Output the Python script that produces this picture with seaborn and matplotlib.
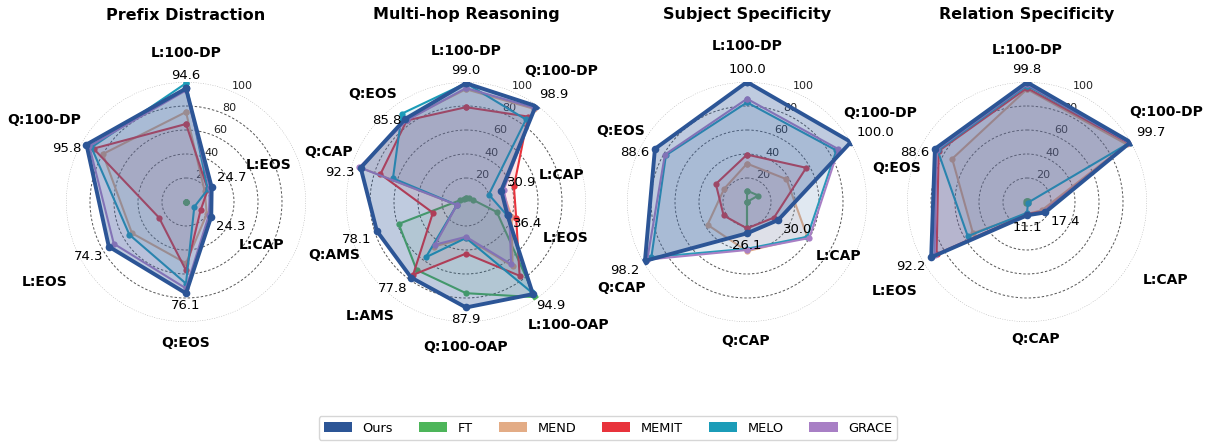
import numpy as np
import pandas as pd
import matplotlib
matplotlib.use("Agg")
import matplotlib.pyplot as plt
import seaborn as sns
from matplotlib.patches import Patch

sns.set_theme(style="white")
plt.rcParams["font.family"] = ["DejaVu Sans"]
plt.rcParams["text.color"] = "black"

# ---------------- data ----------------
methods = ["Ours", "FT", "MEND", "MEMIT", "MELO", "GRACE"]
colors = ["#2C5596", "#4DB55A", "#E3AC86", "#E8333C", "#1B9CB8", "#A87FC5"]

titles = ["Prefix Distraction", "Multi-hop Reasoning",
          "Subject Specificity", "Relation Specificity"]

cats_prefix = ["L:100-DP", "L:EOS", "L:CAP", "Q:EOS", "L:EOS", "Q:100-DP"]
prefix_ours = [94.6, 24.7, 24.3, 76.1, 74.3, 95.8]
prefix_ft = [0, 0, 0, 0, 0, 0]
prefix_mend = [75, 18, 20, 51, 52, 80]
prefix_memit = [65, 21, 14, 57, 26, 89]
prefix_melo = [99, 21, 8, 68, 54.5, 91]
prefix_grace = [93, 23, 22, 72, 69.5, 93]

cats_multi = ["L:100-DP", "Q:100-DP", "L:CAP", "L:EOS", "L:100-OAP",
              "Q:100-OAP", "L:AMS", "Q:AMS", "Q:CAP", "Q:EOS"]
multi_ours = [99.0, 98.9, 30.9, 36.4, 94.9, 87.9, 77.8, 78.1, 92.3, 85.8]
multi_ft = [3, 4, 6, 27, 98, 76, 70, 59, 5, 3]
multi_mend = [94, 96, 32, 40, 66, 30, 46, 8, 92, 85]
multi_memit = [79, 88, 42, 44, 76, 43, 75, 29, 75, 84]
multi_melo = [99, 85, 20, 36, 93, 30, 57, 8, 64, 91]
multi_grace = [95, 97, 33, 38, 64, 29, 44, 8, 93.5, 84]

cats_subject = ["L:100-DP", "Q:100-DP", "L:CAP", "Q:CAP", "Q:CAP", "Q:EOS"]
subject_ours = [100.0, 100.0, 30.0, 26.1, 98.2, 88.6]
subject_ft = [9.5, 10.8, 0, 22, 0, 0]
subject_mend = [32, 38, 58, 41, 38, 22]
subject_memit = [39.5, 57, 26, 22, 22.5, 30]
subject_melo = [83, 86, 58, 39, 92, 78]
subject_grace = [86, 88, 60, 40, 96, 79]

cats_relation = ["L:100-DP", "Q:100-DP", "L:CAP", "Q:CAP", "L:EOS", "Q:EOS"]
relation_ours = [99.8, 99.7, 17.4, 11.1, 92.2, 88.6]
relation_ft = [1, 1, 1, 1, 1, 1]
relation_mend = [94, 96, 14, 10, 52, 72]
relation_memit = [95, 98, 16, 10, 87, 85]
relation_melo = [97, 99, 1, 9, 57, 86]
relation_grace = [98, 98.5, 16, 11, 89, 87]

# ---------------- layout (label placement: angle deg clockwise, radius) -----
label_pos = [
    [(0, 124), (66, 75), (120, 72.5), (180, 117.5), (240.5, 135), (300, 136)],
    [(0, 125.6), (36, 134.5), (74, 82.8), (110, 88.6), (140, 133.3),
     (180, 121.2), (220, 123.8), (248, 118.2), (290, 122.3), (319, 118.7)],
    [(0, 129.7), (56.3, 133.5), (120.6, 88.8), (180.5, 116), (235.5, 126.4),
     (299.2, 120.9)],
    [(0, 127), (57, 138.3), (119.4, 133), (176.5, 114), (236, 133),
     (284.5, 112.5)],
]
centers_x = [186, 466, 747, 1027]

panels = [
    (cats_prefix, [prefix_ours, prefix_ft, prefix_mend, prefix_memit, prefix_melo, prefix_grace]),
    (cats_multi, [multi_ours, multi_ft, multi_mend, multi_memit, multi_melo, multi_grace]),
    (cats_subject, [subject_ours, subject_ft, subject_mend, subject_memit, subject_melo, subject_grace]),
    (cats_relation, [relation_ours, relation_ft, relation_mend, relation_memit, relation_melo, relation_grace]),
]

W, H = 1210, 443
fig = plt.figure(figsize=(W / 100, H / 100), dpi=100)
R = 120
cy = 202

draw_order = ["FT", "MEND", "MEMIT", "MELO", "GRACE", "Ours"]

for p, ((cats, series), title, cx) in enumerate(zip(panels, titles, centers_x)):
    ax = fig.add_axes([(cx - R) / W, (H - cy - R) / H, 2 * R / W, 2 * R / H],
                      projection="polar")
    ax.set_theta_offset(np.pi / 2)
    ax.set_theta_direction(-1)
    n = len(cats)
    theta = np.arange(n) * 2 * np.pi / n
    th_closed = np.append(theta, 2 * np.pi)

    rows = []
    for m, vals in zip(methods, series):
        for t, v in zip(th_closed, list(vals) + [vals[0]]):
            rows.append({"method": m, "theta": t, "value": v})
    df = pd.DataFrame(rows)

    for m in draw_order:
        i = methods.index(m)
        sub = df[df["method"] == m]
        is_ours = m == "Ours"
        ax.fill(sub["theta"], sub["value"], color=colors[i],
                alpha=0.3 if is_ours else 0.1, lw=0, zorder=2 + draw_order.index(m))
        sns.lineplot(data=sub, x="theta", y="value", ax=ax, color=colors[i],
                     sort=False, estimator=None, marker="o",
                     markersize=5.5 if is_ours else 4.5, markeredgewidth=0,
                     linewidth=2.8 if is_ours else 1.5,
                     zorder=2.5 + draw_order.index(m))

    ax.set_xlabel("")
    ax.set_ylabel("")
    ax.set_ylim(0, 100)
    ax.set_xticks(theta)
    ax.set_xticklabels([])
    ax.tick_params(axis="x", length=0)
    ax.xaxis.grid(False)
    ax.set_yticks([20, 40, 60, 80, 100])
    ax.set_yticklabels(["20", "40", "60", "80", "100"], fontsize=8, color="#222222")
    ax.set_rlabel_position(22.5)
    ax.yaxis.grid(True, color="#555555", linestyle=(0, (2.5, 2)), linewidth=0.7)
    gls = ax.yaxis.get_gridlines()
    gls[-1].set_color("#aaaaaa")
    gls[-1].set_linestyle((0, (1, 1.5)))
    ax.spines["polar"].set_visible(False)
    ax.set_facecolor("white")

    # category labels
    for lab, (ang, rr) in zip(cats, label_pos[p]):
        ax.text(np.deg2rad(ang), rr, lab, ha="center", va="center",
                fontsize=10, fontweight="bold", color="black", clip_on=False,
                zorder=20)

    # value labels for Ours
    ours = series[0]
    for t, v in zip(theta, ours):
        s, c = np.sin(t), np.cos(t)
        if s < -0.05:
            ha, va = "right", "top"
        elif s > 0.05:
            ha, va = "left", ("bottom" if c > 0 else "top")
        else:
            ha, va = "center", ("bottom" if c > 0 else "top")
        ax.text(t, v + 5, f"{v:.1f}", ha=ha, va=va, fontsize=9.5,
                color="black", clip_on=False, zorder=20)

    fig.text(cx / W, 1 - 15 / H, title, ha="center", va="center",
             fontsize=11.5, fontweight="bold", color="black")

handles = [Patch(facecolor=c, edgecolor="none", label=m) for m, c in zip(methods, colors)]
fig.legend(handles=handles, loc="center", bbox_to_anchor=(608 / W, 1 - 428 / H),
           ncol=6, fontsize=9.3, frameon=True, handlelength=2.2, handleheight=0.8,
           columnspacing=2.0, handletextpad=0.8, edgecolor="#cccccc", fancybox=True)

fig.savefig("out.png", dpi=100)
